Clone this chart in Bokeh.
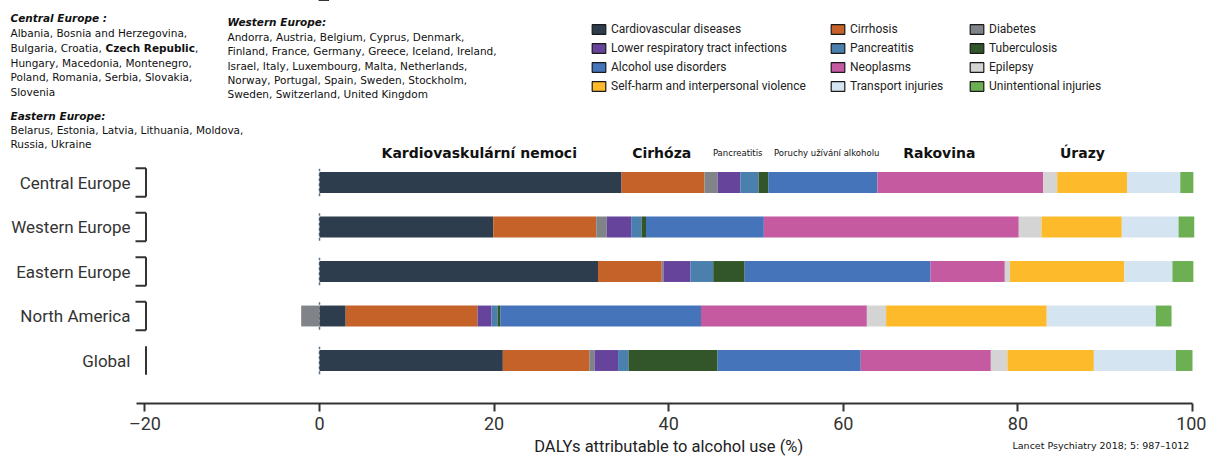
import numpy as np
from bokeh.plotting import figure
from bokeh.models import Range1d, Label, Legend, LegendItem, FixedTicker
from bokeh.embed import file_html
from bokeh.resources import INLINE
from bokeh.core.properties import value

# ---------------- data ----------------
regions = ["Central Europe", "Western Europe", "Eastern Europe", "North America", "Global"]

causes = ["Cardiovascular diseases", "Cirrhosis", "Diabetes",
          "Lower respiratory tract infections", "Pancreatitis", "Tuberculosis",
          "Alcohol use disorders", "Neoplasms", "Epilepsy",
          "Self-harm and interpersonal violence", "Transport injuries",
          "Unintentional injuries"]

cardiovascular = [34.6, 19.9, 31.9, 3.0, 21.0]
cirrhosis      = [9.5, 11.8, 7.3, 15.1, 9.9]
diabetes       = [1.5, 1.2, 0.2, -2.1, 0.6]
lower_resp     = [2.6, 2.8, 3.1, 1.6, 2.7]
pancreatitis   = [2.1, 1.2, 2.6, 0.7, 1.2]
tuberculosis   = [1.1, 0.5, 3.6, 0.3, 10.2]
alcohol_use    = [12.5, 13.5, 21.3, 23.0, 16.4]
neoplasms      = [19.0, 29.2, 8.5, 19.0, 14.9]
epilepsy       = [1.6, 2.6, 0.6, 2.2, 1.9]
self_harm      = [8.0, 9.2, 13.1, 18.4, 9.9]
transport      = [6.1, 6.5, 5.5, 12.5, 9.4]
unintentional  = [1.5, 1.8, 2.4, 1.8, 1.9]

series = [cardiovascular, cirrhosis, diabetes, lower_resp, pancreatitis, tuberculosis,
          alcohol_use, neoplasms, epilepsy, self_harm, transport, unintentional]

colors = ["#2d3d4e", "#c4622a", "#808488", "#67449b", "#4a7fae", "#32562a",
          "#4574ba", "#c55aa0", "#d3d4d3", "#fdbb2b", "#d5e4f1", "#6cb053"]

x_ticks = [-20, 0, 20, 40, 60, 80, 100]

group_labels = ["Kardiovaskulární nemoci", "Cirhóza", "Pancreatitis",
                "Poruchy užívání alkoholu", "Rakovina", "Úrazy"]
group_label_x = [18.3, 39.2, 47.9, 58.1, 71.0, 87.4]
group_label_bold = [True, True, False, False, True, True]

# ---------------- layout helpers (page px -> data) ----------------
PX0, PXU = 319.0, 8.73      # page x of value 0, px per unit
PY0, PYU = 360.0, 44.5      # page y of lowest bar centre, px per row


def X(px):
    return (px - PX0) / PXU


def Y(py):
    return (PY0 - py) / PYU


W, H = 1206, 459
p = figure(width=W, height=H, output_backend="svg", toolbar_location=None,
           x_range=Range1d(X(0), X(W)), y_range=Range1d(Y(H), Y(0)),
           y_axis_location=None, min_border_left=0, min_border_right=0,
           min_border_top=0, min_border_bottom=0, outline_line_color=None)
p.xgrid.visible = False
p.ygrid.visible = False

n = len(regions)
ypos = np.array([n - 1 - i for i in range(n)], dtype=float)

# zero reference (dashed) behind bars
p.segment(x0=np.zeros(n), y0=ypos - 0.31, x1=np.zeros(n), y1=ypos + 0.31,
          line_color="#5b7185", line_dash="3 2", line_width=1.5)

# stacked bars (positive to the right of 0, negative to the left)
pos = np.zeros(n)
neg = np.zeros(n)
bar_h = 0.47
for vals, col in zip(series, colors):
    v = np.array(vals, dtype=float)
    left = np.where(v >= 0, pos, neg + v)
    right = np.where(v >= 0, pos + v, neg)
    pos = np.where(v >= 0, pos + v, pos)
    neg = np.where(v < 0, neg + v, neg)
    p.hbar(y=ypos, left=left, right=right, height=bar_h,
           fill_color=col, line_color=None)

# legend swatch proxies (outlined like the original), parked outside the view
proxies = []
off = [ypos.max() + 50]
for col in colors:
    r = p.hbar(y=off, left=[0], right=[1], height=bar_h, fill_color=col,
               line_color="#1a1a1a", line_width=1.2)
    proxies.append(r)

legend_cols = [[0, 3, 6, 9], [1, 4, 7, 10], [2, 5, 8, 11]]
legend_x = [590, 829, 968]
for cols, lx in zip(legend_cols, legend_x):
    items = [LegendItem(label=causes[k], renderers=[proxies[k]]) for k in cols]
    lg = Legend(items=items, location=(lx, H - 93), padding=0, margin=0,
                spacing=4, label_height=15, glyph_height=12, glyph_width=17,
                label_standoff=4, label_text_font="Roboto",
                label_text_font_size="12px", label_text_color="#222222",
                background_fill_alpha=0, border_line_alpha=0)
    p.add_layout(lg, "center")

# region labels and brackets
p.text(x=np.full(n, X(130)), y=ypos, text=regions, text_align="right",
       text_baseline="middle", text_font=value("Roboto"),
       text_font_size="17px", text_color="#333333")
bx = X(145.5)
p.segment(x0=np.full(n, bx), y0=ypos - 0.32, x1=np.full(n, bx), y1=ypos + 0.32,
          line_color="#333333", line_width=2)
tick_rows = ypos[:-1]
m = len(tick_rows)
p.segment(x0=np.full(m, X(135)), y0=tick_rows + 0.32, x1=np.full(m, bx),
          y1=tick_rows + 0.32, line_color="#333333", line_width=2)
p.segment(x0=np.full(m, X(135)), y0=tick_rows - 0.32, x1=np.full(m, bx),
          y1=tick_rows - 0.32, line_color="#333333", line_width=2)

# group labels above bars
for txt, gx, b in zip(group_labels, group_label_x, group_label_bold):
    p.add_layout(Label(x=gx, y=Y(152), text=txt, text_align="center",
                       text_baseline="middle", text_font="DejaVu Sans",
                       text_font_size="14px" if b else "8.5px",
                       text_font_style="bold" if b else "normal",
                       text_color="#111111"))


def note(px, py, txt, style="normal", size="10.5px", align="left"):
    p.add_layout(Label(x=X(px), y=Y(py), text=txt, text_align=align,
                       text_baseline="middle", text_font="DejaVu Sans",
                       text_font_size=size, text_font_style=style,
                       text_color="#111111"))


# country lists
note(10, 17, "Central Europe :", "bold italic")
note(10, 32, "Albania, Bosnia and Herzegovina,")
note(10, 47, "Bulgaria, Croatia, ")
note(105, 47, "Czech Republic", "bold")
note(194.5, 47, ",")
note(10, 62, "Hungary, Macedonia, Montenegro,")
note(10, 76.5, "Poland, Romania, Serbia, Slovakia,")
note(10, 91, "Slovenia")
note(10, 115, "Eastern Europe:", "bold italic")
note(10, 129, "Belarus, Estonia, Latvia, Lithuania, Moldova,")
note(10, 143, "Russia, Ukraine")

note(227, 21, "Western Europe:", "bold italic")
note(227, 36, "Andorra, Austria, Belgium, Cyprus, Denmark,")
note(227, 50, "Finland, France, Germany, Greece, Iceland, Ireland,")
note(227, 65, "Israel, Italy, Luxembourg, Malta, Netherlands,")
note(227, 79, "Norway, Portugal, Spain, Sweden, Stockholm,")
note(227, 93, "Sweden, Switzerland, United Kingdom")

# source
note(1012, 445, "Lancet Psychiatry 2018; 5: 987\u20131012", size="9.5px")

# axis title
p.add_layout(Label(x=40, y=Y(446), text="DALYs attributable to alcohol use (%)",
                   text_align="center", text_baseline="middle",
                   text_font="Roboto", text_font_size="16.5px",
                   text_color="#222222"))

# x axis, pinned inside the frame at the original position
ax = p.xaxis[0]
ax.fixed_location = Y(403)
ax.ticker = FixedTicker(ticks=x_ticks)
ax.bounds = (-21, 100)
ax.major_label_overrides = {-20: "\u201320"}
ax.axis_line_width = 2
ax.axis_line_color = "#333333"
ax.major_tick_out = 8
ax.major_tick_in = 0
ax.major_tick_line_width = 2
ax.major_tick_line_color = "#333333"
ax.minor_tick_out = 0
ax.minor_tick_in = 0
ax.major_label_text_font = "Roboto"
ax.major_label_text_font_size = "18px"
ax.major_label_text_color = "#333333"
ax.major_label_standoff = 1

open("out.html", "w").write(file_html(p, INLINE))
